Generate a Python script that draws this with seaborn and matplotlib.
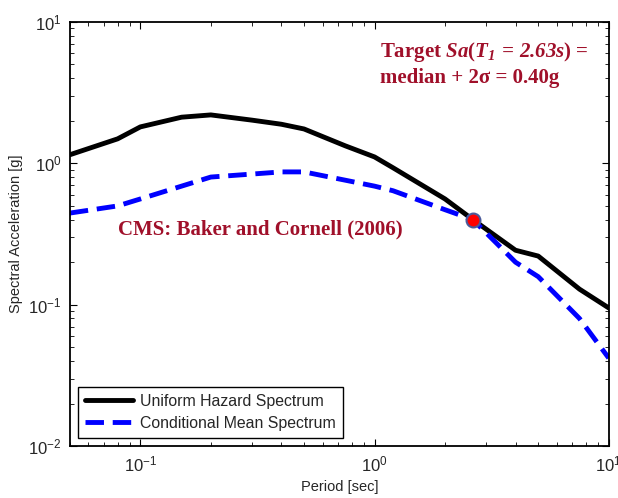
import matplotlib
matplotlib.use("Agg")
import matplotlib.pyplot as plt
import matplotlib.ticker as mticker
import seaborn as sns
import pandas as pd
import numpy as np

# ---- data ----
uhs_period = [0.05, 0.08, 0.1, 0.15, 0.2, 0.3, 0.4, 0.5, 0.75, 1.0, 1.2, 2.0, 2.63, 4.0, 5.0, 7.5, 10.0]
uhs_sa     = [1.15, 1.49, 1.81, 2.12, 2.20, 2.02, 1.89, 1.75, 1.33, 1.11, 0.93, 0.56, 0.40, 0.243, 0.221, 0.129, 0.095]

cms_period = [0.05, 0.08, 0.1, 0.15, 0.2, 0.3, 0.4, 0.5, 0.75, 1.0, 1.2, 2.0, 2.63, 4.0, 5.0, 7.5, 10.0]
cms_sa     = [0.445, 0.50, 0.56, 0.69, 0.80, 0.84, 0.87, 0.87, 0.76, 0.69, 0.64, 0.47, 0.40, 0.20, 0.158, 0.080, 0.042]

target_period = [2.63]
target_sa = [0.40]

series_labels = ["Uniform Hazard Spectrum", "Conditional Mean Spectrum"]

sns.set_theme(style="ticks")
plt.rcParams['font.family'] = ['Liberation Sans', 'DejaVu Sans']
plt.rcParams['mathtext.fontset'] = 'custom'
plt.rcParams['mathtext.sf'] = 'Liberation Sans'
plt.rcParams['mathtext.rm'] = 'Liberation Serif:bold'
plt.rcParams['mathtext.it'] = 'Liberation Serif:italic:bold'
plt.rcParams['mathtext.cal'] = 'Liberation Serif:italic:bold'
plt.rcParams['mathtext.bf'] = 'Liberation Serif:bold'

fig = plt.figure(figsize=(6.18, 4.98), dpi=100)
ax = fig.add_axes([0.113, 0.104, 0.872, 0.852])

df_uhs = pd.DataFrame({"Period": uhs_period, "Sa": uhs_sa})
df_cms = pd.DataFrame({"Period": cms_period, "Sa": cms_sa})

sns.lineplot(data=df_uhs, x="Period", y="Sa", ax=ax, color="black", lw=3.5,
             label=series_labels[0], sort=False)
sns.lineplot(data=df_cms, x="Period", y="Sa", ax=ax, color="#0000FF", lw=3.5,
             label=series_labels[1], sort=False)
ax.lines[1].set_dashes([3.8, 1.8])

ax.plot(target_period, target_sa, 'o', ms=10, mfc='red', mec='#4A5A9A', mew=1.5, zorder=5)

ax.set_xscale('log')
ax.set_yscale('log')
ax.set_xlim(0.05, 10)
ax.set_ylim(0.01, 10)

fmt = mticker.FuncFormatter(lambda v, p: r'$\mathsf{10^{%d}}$' % int(round(np.log10(v))))
ax.xaxis.set_major_locator(mticker.LogLocator(base=10, numticks=10))
ax.yaxis.set_major_locator(mticker.LogLocator(base=10, numticks=10))
ax.xaxis.set_major_formatter(fmt)
ax.yaxis.set_major_formatter(fmt)
ax.xaxis.set_minor_locator(mticker.LogLocator(base=10, subs=np.arange(2, 10), numticks=20))
ax.yaxis.set_minor_locator(mticker.LogLocator(base=10, subs=np.arange(2, 10), numticks=20))
ax.xaxis.set_minor_formatter(mticker.NullFormatter())
ax.yaxis.set_minor_formatter(mticker.NullFormatter())

ax.tick_params(which='both', direction='in', top=True, right=True, color='black')
ax.tick_params(which='major', length=5, width=0.8, labelsize=12, pad=6)
ax.tick_params(which='minor', length=3, width=0.6)
for s in ax.spines.values():
    s.set_linewidth(1.3)
    s.set_color('black')

ax.set_xlabel("Period [sec]", fontsize=10.5, labelpad=4)
ax.set_ylabel("Spectral Acceleration [g]", fontsize=10.5, labelpad=4)

red = '#A0102A'
ax.text(1.055, 6.1, r"Target $\mathcal{Sa}$($\mathcal{T_1\,=\,2.63s}$) =", color=red,
        fontsize=15, fontfamily='Liberation Serif', fontweight='bold', va='center', ha='left')
ax.text(1.055, 4.0, "median + 2σ = 0.40g", color=red,
        fontsize=15, fontfamily='Liberation Serif', fontweight='bold', va='center', ha='left')
ax.text(0.08, 0.34, "CMS: Baker and Cornell (2006)", color=red,
        fontsize=15, fontfamily='Liberation Serif', fontweight='bold', va='center', ha='left')

leg = ax.legend(loc='lower left', bbox_to_anchor=(0.015, 0.019), borderaxespad=0,
                fontsize=11.4, frameon=True, fancybox=False, edgecolor='black',
                handlelength=3.0, handletextpad=0.5, borderpad=0.45, labelspacing=0.45)
leg.get_frame().set_linewidth(1.0)
leg.get_frame().set_alpha(1)

fig.savefig("out.png", dpi=100, facecolor='white')
